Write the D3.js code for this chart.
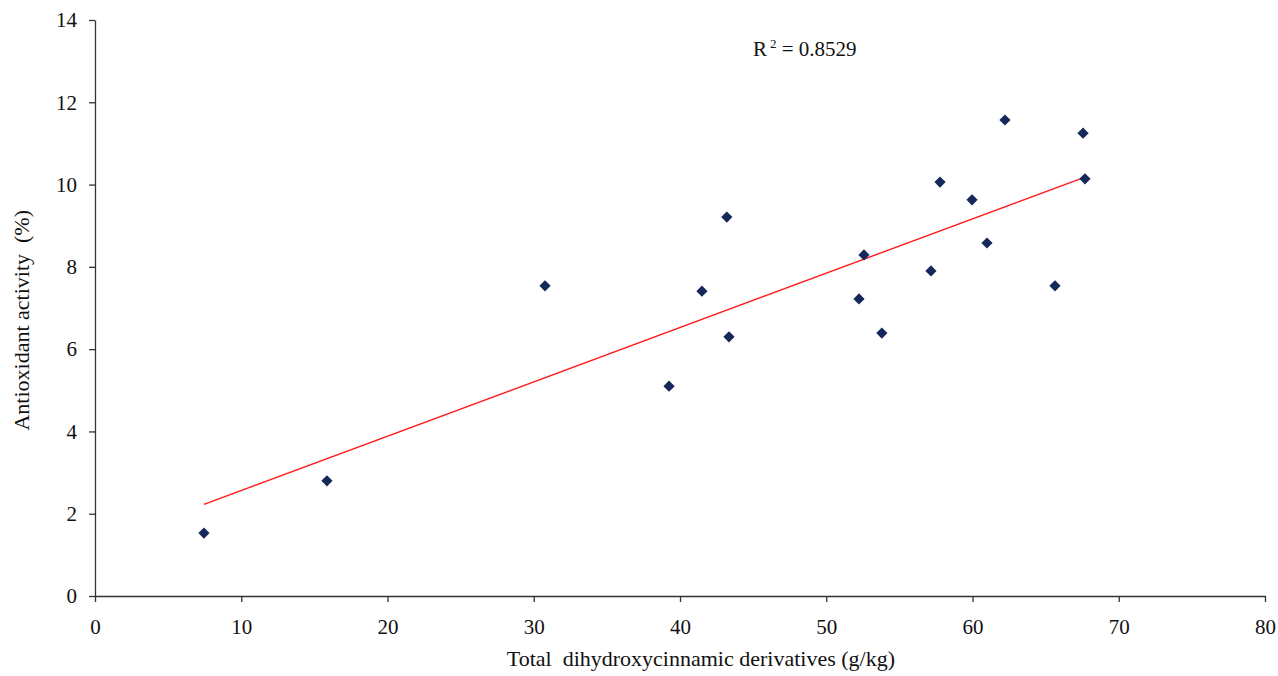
<!DOCTYPE html>
<html>
<head>
<meta charset="utf-8">
<script src="https://cdn.jsdelivr.net/npm/d3@7"></script>
<style>
  body { margin: 0; background: #fff; }
  .axis path, .axis line { stroke: #333; stroke-width: 1.3; }
</style>
</head>
<body>
<script>
const width = 1278,
      height = 676;
const serif = "'Liberation Serif', 'Times New Roman', Times, serif";

// total dihydroxycinnamic derivatives (g/kg)
const xValues = [7.45, 15.86, 30.77, 39.25, 41.5, 43.2, 43.35, 52.24, 52.58, 53.8,
                 57.16, 57.78, 59.97, 60.99, 62.22, 65.64, 67.56, 67.69];
// antioxidant activity (%)
const yValues = [1.53, 2.80, 7.54, 5.10, 7.41, 9.21, 6.30, 7.22, 8.29, 6.39,
                 7.90, 10.06, 9.63, 8.58, 11.57, 7.54, 11.25, 10.14];

const xTicks = [0, 10, 20, 30, 40, 50, 60, 70, 80];
const yTicks = [0, 2, 4, 6, 8, 10, 12, 14];
const rSquared = "0.8529";

const margin = {top: 20, right: 13, bottom: 80, left: 95};

const x = d3.scaleLinear().domain([0, 80]).range([margin.left, width - margin.right]);
const y = d3.scaleLinear().domain([0, 14]).range([height - margin.bottom, margin.top]);

const svg = d3.select("body").append("svg")
    .attr("width", width)
    .attr("height", height)
    .style("font-family", serif);

svg.append("g")
    .attr("class", "axis")
    .attr("transform", `translate(0,${y(0)})`)
    .call(d3.axisBottom(x).tickValues(xTicks).tickSize(6).tickSizeOuter(0).tickPadding(17))
    .call(g => g.selectAll("text").attr("dy", "0.71em"));

svg.append("g")
    .attr("class", "axis")
    .attr("transform", `translate(${x(0)},0)`)
    .call(d3.axisLeft(y).tickValues(yTicks).tickSize(6).tickSizeOuter(0).tickPadding(12));

svg.selectAll(".axis")
    .attr("font-family", serif)
    .attr("font-size", 21)
    .selectAll("text")
    .style("font-family", serif)
    .attr("fill", "#111");

// least squares trend line, drawn over the range of the data
const points = xValues.map((v, i) => [v, yValues[i]]);
const mx = d3.mean(xValues), my = d3.mean(yValues);
const slope = d3.sum(points, p => (p[0] - mx) * (p[1] - my)) / d3.sum(points, p => (p[0] - mx) ** 2);
const intercept = my - slope * mx;
const [x0, x1] = d3.extent(xValues);

svg.append("line")
    .attr("x1", x(x0)).attr("y1", y(intercept + slope * x0))
    .attr("x2", x(x1)).attr("y2", y(intercept + slope * x1))
    .attr("stroke", "#ff1a1a")
    .attr("stroke-width", 1.4);

svg.selectAll(".point")
    .data(points)
    .enter().append("path")
    .attr("class", "point")
    .attr("d", d3.symbol(d3.symbolDiamond2, 80))
    .attr("transform", d => `translate(${x(d[0])},${y(d[1])})`)
    .attr("fill", "#14285a");

// R² label
const r2 = svg.append("text")
    .attr("x", 753).attr("y", 56)
    .style("font-family", serif)
    .attr("font-size", 21)
    .attr("fill", "#111");
r2.append("tspan").text("R");
r2.append("tspan").attr("font-size", 13).attr("dy", -8).attr("dx", 3).text("2");
r2.append("tspan").attr("dy", 8).text(" = " + rSquared);

svg.append("text")
    .attr("x", 895).attr("y", 666)
    .attr("text-anchor", "end")
    .style("font-family", serif)
    .attr("font-size", 22)
    .attr("fill", "#111")
    .attr("xml:space", "preserve")
    .text("Total  dihydroxycinnamic derivatives (g/kg)");

svg.append("text")
    .attr("transform", `translate(29,210) rotate(-90)`)
    .attr("text-anchor", "end")
    .style("font-family", serif)
    .attr("font-size", 22)
    .attr("fill", "#111")
    .attr("xml:space", "preserve")
    .text("Antioxidant activity  (%)");
</script>
</body>
</html>
